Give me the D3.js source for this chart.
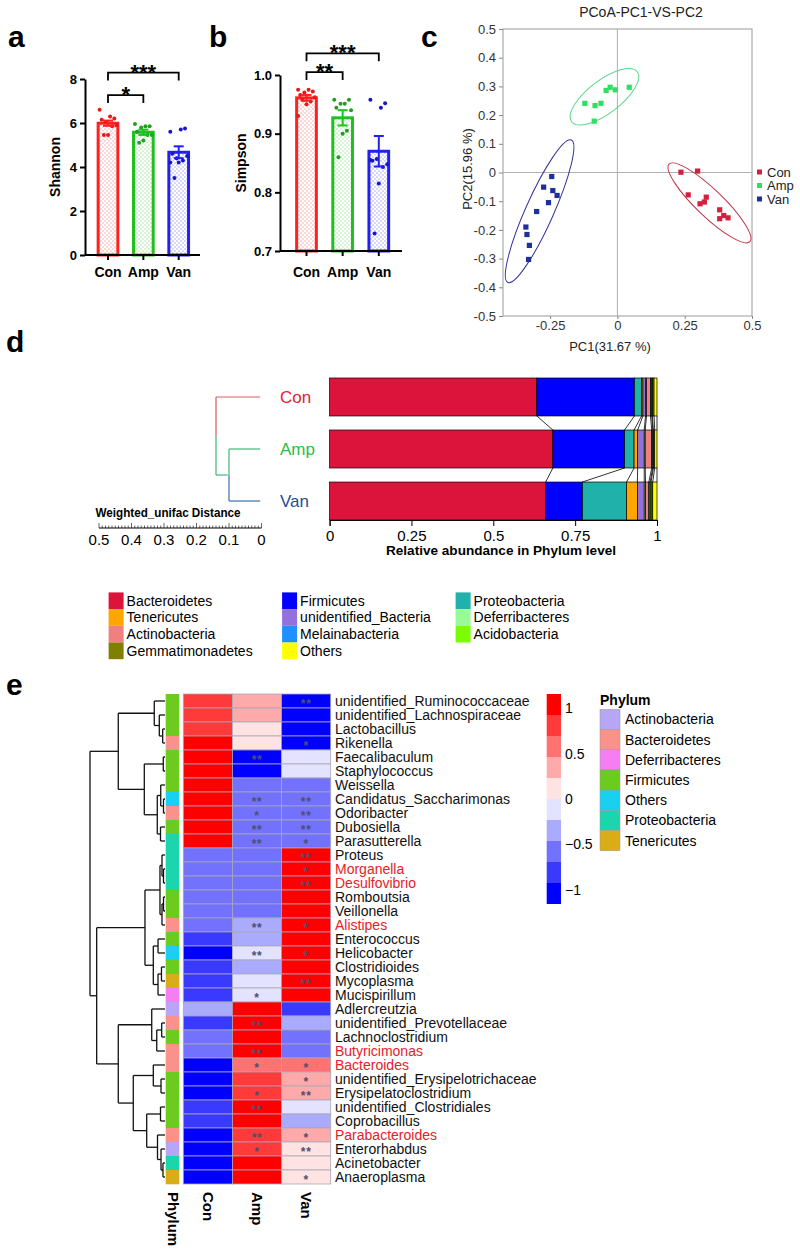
<!DOCTYPE html>
<html>
<head>
<meta charset="utf-8">
<script src="https://cdn.jsdelivr.net/npm/d3@7/dist/d3.min.js"></script>
<style>
  body { margin: 0; background: #fff; }
  svg { display: block; font-family: "Liberation Sans", Arial, sans-serif; }
</style>
</head>
<body>
<div id="fig"></div>
<script>
// ---------------- data: a / b alpha diversity ----------------
const groups = ["Con", "Amp", "Van"];
const groupColors = ["#ff2020", "#20c020", "#2020f0"];
const dotColors = ["#e81818", "#229f22", "#1616cc"];

const shannonMean = [5.99, 5.58, 4.67];
const shannonSem = [0.12, 0.12, 0.27];
const shannonCon = [6.6, 6.2, 6.3, 6.05, 6.15, 5.9, 5.85, 5.45, 5.45];
const shannonAmp = [5.95, 5.85, 5.85, 5.8, 5.6, 5.45, 5.45, 5.2, 5.1];
const shannonVan = [5.6, 5.75, 5.7, 4.4, 4.6, 4.5, 4.3, 4.2, 3.5, 4.2];
const shannonTicks = [0, 2, 4, 6, 8];
const shannonSig = [["Con", "Amp", "*", 7.27], ["Con", "Van", "***", 8.29]];

const simpsonMean = [0.961, 0.927, 0.870];
const simpsonSem = [0.005, 0.013, 0.026];
const simpsonCon = [0.975, 0.972, 0.975, 0.970, 0.966, 0.962, 0.955, 0.950, 0.958, 0.930];
const simpsonAmp = [0.958, 0.958, 0.951, 0.951, 0.944, 0.94, 0.905, 0.90, 0.86];
const simpsonVan = [0.958, 0.952, 0.944, 0.857, 0.854, 0.848, 0.843, 0.815, 0.730, 0.855];
const simpsonTicks = [0.7, 0.8, 0.9, 1.0];
const simpsonSig = [["Con", "Amp", "**", 1.005], ["Con", "Van", "***", 1.037]];

// ---------------- data: c PCoA ----------------
const pcoaColors = ["#d2203f", "#2ee062", "#1e2e9a"];
const ellipseColors = ["#c0364a", "#5ad88a", "#34349a"];
const pcoaCon = [[0.236, 0.001], [0.298, 0.005], [0.263, -0.078], [0.330, -0.086], [0.307, -0.109],
  [0.323, -0.103], [0.380, -0.130], [0.395, -0.150], [0.380, -0.161], [0.411, -0.158]];
const pcoaAmp = [[-0.121, 0.241], [-0.083, 0.233], [-0.061, 0.241], [-0.086, 0.179],
  [-0.042, 0.286], [-0.027, 0.297], [-0.008, 0.288], [0.044, 0.297]];
const pcoaVan = [[-0.244, -0.014], [-0.274, -0.051], [-0.240, -0.063], [-0.224, -0.080], [-0.256, -0.105],
  [-0.300, -0.136], [-0.340, -0.190], [-0.336, -0.216], [-0.327, -0.254], [-0.330, -0.303]];
// ellipse: centre x, centre y, major-axis end offset (dx, dy), minor/major ratio
const ellipses = [[0.342, -0.106, 0.150, -0.135, 0.24], [-0.048, 0.264, 0.122, 0.087, 0.40], [-0.289, -0.135, 0.118, 0.248, 0.18]];
const pcoaYTicks = [0.5, 0.4, 0.3, 0.2, 0.1, 0, -0.1, -0.2, -0.3, -0.4, -0.5];
const pcoaXTicks = [-0.25, 0, 0.25, 0.5];

// ---------------- data: d phylum abundance ----------------
const phyla = ["Bacteroidetes", "Firmicutes", "Proteobacteria", "Tenericutes", "unidentified_Bacteria",
  "Deferribacteres", "Actinobacteria", "Melainabacteria", "Acidobacteria", "Gemmatimonadetes", "Others"];
const phylaColors = ["#dc143c", "#0000ff", "#20b2aa", "#ffa500", "#9370db", "#98fb98", "#f08080",
  "#1e90ff", "#7cfc00", "#808000", "#ffff00"];
const abundCon = [0.633, 0.298, 0.022, 0.004, 0.008, 0.003, 0.012, 0.004, 0.002, 0.005, 0.009];
const abundAmp = [0.682, 0.219, 0.029, 0.011, 0.020, 0.003, 0.020, 0.003, 0.002, 0.004, 0.007];
const abundVan = [0.660, 0.112, 0.135, 0.033, 0.021, 0.004, 0.010, 0.004, 0.003, 0.005, 0.013];
const groupTree = [0.14, 0, [0.1, 1, 2]];
const treeColors = ["#e05a5a", "#3cb878", "#3a6fb0"];
const treeLabelColors = ["#e8203a", "#28c048", "#2a4a9a"];
const abundTicks = [0, 0.25, 0.5, 0.75, 1];
const distTicks = [0.5, 0.4, 0.3, 0.2, 0.1, 0];

// ---------------- data: e heatmap ----------------
const taxa = ["unidentified_Ruminococcaceae", "unidentified_Lachnospiraceae", "Lactobacillus", "Rikenella",
  "Faecalibaculum", "Staphylococcus", "Weissella", "Candidatus_Saccharimonas", "Odoribacter", "Dubosiella",
  "Parasutterella", "Proteus", "Morganella", "Desulfovibrio", "Romboutsia", "Veillonella", "Alistipes",
  "Enterococcus", "Helicobacter", "Clostridioides", "Mycoplasma", "Mucispirillum", "Adlercreutzia",
  "unidentified_Prevotellaceae", "Lachnoclostridium", "Butyricimonas", "Bacteroides",
  "unidentified_Erysipelotrichaceae", "Erysipelatoclostridium", "unidentified_Clostridiales", "Coprobacillus",
  "Parabacteroides", "Enterorhabdus", "Acinetobacter", "Anaeroplasma"];
const highlighted = ["Morganella", "Desulfovibrio", "Alistipes", "Butyricimonas", "Bacteroides", "Parabacteroides"];
const taxaPhylum = ["Firmicutes", "Firmicutes", "Firmicutes", "Bacteroidetes", "Firmicutes", "Firmicutes",
  "Firmicutes", "Others", "Bacteroidetes", "Firmicutes", "Proteobacteria", "Proteobacteria", "Proteobacteria",
  "Proteobacteria", "Firmicutes", "Firmicutes", "Bacteroidetes", "Firmicutes", "Others", "Firmicutes",
  "Tenericutes", "Deferribacteres", "Actinobacteria", "Bacteroidetes", "Firmicutes", "Bacteroidetes",
  "Bacteroidetes", "Firmicutes", "Firmicutes", "Firmicutes", "Firmicutes", "Bacteroidetes", "Actinobacteria",
  "Proteobacteria", "Tenericutes"];
const zCon = [0.80, 0.80, 0.85, 1.00, 1.10, 1.10, 1.15, 1.15, 1.15, 1.15, 1.15, -0.58, -0.58, -0.58, -0.58, -0.58,
  -0.62, -0.80, -1.00, -0.80, -0.85, -0.85, -0.35, -0.80, -0.57, -0.57, -1.15, -1.10, -1.10, -0.90, -0.80, -1.10,
  -1.05, -1.10, -1.10];
const zAmp = [0.35, 0.35, 0.15, 0.10, -1.00, -1.00, -0.58, -0.58, -0.58, -0.58, -0.58, -0.57, -0.57, -0.57, -0.57,
  -0.57, -0.42, -0.30, -0.10, -0.30, -0.15, -0.15, 1.15, 1.15, 1.15, 1.15, 0.58, 0.80, 0.80, 1.05, 1.10, 0.75,
  0.90, 1.00, 1.00];
const zVan = [-1.10, -1.10, -1.05, -1.10, -0.10, -0.10, -0.57, -0.57, -0.57, -0.57, -0.57, 1.15, 1.15, 1.15, 1.15,
  1.15, 1.10, 1.10, 1.10, 1.10, 1.00, 1.00, -0.80, -0.35, -0.58, -0.58, 0.57, 0.30, 0.30, -0.15, -0.30, 0.35,
  0.15, 0.10, 0.10];
const sigAmp = ["", "", "", "", "**", "", "", "**", "*", "**", "**", "", "", "", "", "", "**", "", "**", "", "",
  "*", "", "**", "", "**", "*", "", "*", "**", "", "**", "*", "", ""];
const sigVan = ["**", "", "", "*", "", "", "", "**", "**", "**", "*", "**", "*", "**", "", "", "*", "", "*", "",
  "**", "", "", "", "", "", "*", "*", "**", "", "", "*", "**", "", "*"];
const heatColors = ["#0000ff", "#3a3aff", "#7272ff", "#aaaaff", "#e3e3ff", "#ffe3e3", "#ffaaaa", "#ff7272", "#ff3a3a", "#ff0000"];
const colorbarTicks = [1, 0.5, 0, -0.5, -1];
const annotPhyla = ["Actinobacteria", "Bacteroidetes", "Deferribacteres", "Firmicutes", "Others", "Proteobacteria", "Tenericutes"];
const annotColors = ["#b7a6f5", "#f8928a", "#f47ef2", "#6ccb1f", "#1ad0f0", "#1bd6ac", "#d9ad18"];
// [height, left, right]; leaves are row indexes
const rowTree = [1.0,
  [0.623,
    [0.143, 0, [0.076, 1, [0.031, 2, 3]]],
    [0.276, [0.023, 4, 5], [0.103, [0.057, 6, [0.02, 7, 8]], [0.06, 9, 10]]]],
  [0.911,
    [0.267,
      [0.067, [0.04, 11, [0.02, 12, 13]], [0.04, [0.02, 14, 15], 16]],
      [0.156, [0.093, 17, 18], [0.093, [0.047, 19, 20], 21]]],
    [0.623,
      [0.177, 22, [0.11, [0.044, 23, 24], 25]],
      [0.423,
        [0.156, 26, [0.053, 27, 28]],
        [0.244, [0.06, 29, 30], [0.1, 31, [0.053, 32, [0.027, 33, 34]]]]]]]];

//------------------------------------------------------------------
const svg = d3.select("#fig").append("svg").attr("width", 800).attr("height", 1249);
svg.append("rect").attr("width", 800).attr("height", 1249).attr("fill", "#fff");
const defs = svg.append("defs");
groupColors.forEach((c, i) => {
  const p = defs.append("pattern").attr("id", "dots" + i).attr("width", 4).attr("height", 4)
    .attr("patternUnits", "userSpaceOnUse");
  p.append("rect").attr("width", 4).attr("height", 4).attr("fill", "#fff");
  p.append("circle").attr("cx", 1).attr("cy", 1).attr("r", 0.75).attr("fill", c).attr("opacity", 0.45);
  p.append("circle").attr("cx", 3).attr("cy", 3).attr("r", 0.75).attr("fill", c).attr("opacity", 0.45);
});

// panel letters
[["a", 8, 47], ["b", 209, 47], ["c", 421, 47], ["d", 6, 352], ["e", 6, 695]].forEach(l => {
  svg.append("text").attr("x", l[1]).attr("y", l[2]).text(l[0])
    .style("font-size", "30px").style("font-weight", "bold");
});

//------------------------------------------------------------------
// BAR + DOT PANELS (a, b)
let barPanel = function (o) {
  const g = svg.append("g");
  const x = d3.scalePoint().domain(groups).range(o.xr);
  const y = d3.scaleLinear().domain(o.yd).range(o.yr);
  const bw = 22.7;
  groups.forEach((k, i) => {
    const cx = x(k);
    g.append("rect").attr("x", cx - bw / 2 + 1.5).attr("y", y(o.mean[i]))
      .attr("width", bw - 3).attr("height", y(o.yd[0]) - y(o.mean[i]))
      .attr("fill", `url(#dots${i})`).attr("stroke", groupColors[i]).attr("stroke-width", 3);
    o.pts[i].forEach((v, j) => {
      const off = (((j * 7) % 9) - 4) * 2.1;
      g.append("circle").attr("cx", cx + off).attr("cy", y(v)).attr("r", 2).attr("fill", dotColors[i]);
    });
    const lo = y(o.mean[i] - o.sem[i]), hi = y(o.mean[i] + o.sem[i]);
    g.append("line").attr("x1", cx).attr("x2", cx).attr("y1", lo).attr("y2", hi)
      .attr("stroke", groupColors[i]).attr("stroke-width", 2);
    [lo, hi].forEach(yy => g.append("line").attr("x1", cx - 5).attr("x2", cx + 5).attr("y1", yy).attr("y2", yy)
      .attr("stroke", groupColors[i]).attr("stroke-width", 2));
  });
  // y axis
  const ay = g.append("g").attr("transform", `translate(${o.axisX},0)`)
    .call(d3.axisLeft(y).tickValues(o.ticks).tickSize(5).tickSizeOuter(0).tickPadding(3).tickFormat(o.fmt));
  ay.selectAll("path, line").attr("stroke", "#000").attr("stroke-width", 2);
  ay.selectAll("text").style("font-size", "13px").style("font-weight", "bold").attr("fill", "#000");
  // x axis
  const y0 = y(o.yd[0]);
  g.append("line").attr("x1", o.axisX).attr("x2", o.axisEnd).attr("y1", y0).attr("y2", y0)
    .attr("stroke", "#000").attr("stroke-width", 2);
  groups.forEach(k => {
    g.append("line").attr("x1", x(k)).attr("x2", x(k)).attr("y1", y0).attr("y2", y0 + 5)
      .attr("stroke", "#000").attr("stroke-width", 2);
    g.append("text").attr("x", x(k)).attr("y", 277).attr("text-anchor", "middle").text(k)
      .style("font-size", "14px").style("font-weight", "bold");
  });
  g.append("text").attr("transform", `translate(${o.labelX},${o.labelY}) rotate(-90)`)
    .attr("text-anchor", "middle").text(o.label).style("font-size", "14px").style("font-weight", "bold");
  // significance brackets
  o.sig.forEach(s => {
    const x1 = x(s[0]), x2 = x(s[1]), yy = y(s[3]);
    g.append("path").attr("d", `M${x1},${yy + 8}V${yy}H${x2}V${yy + 8}`)
      .attr("fill", "none").attr("stroke", "#000").attr("stroke-width", 1.8);
    g.append("text").attr("x", (x1 + x2) / 2).attr("y", yy + 7).attr("text-anchor", "middle").text(s[2])
      .style("font-size", "22px").style("font-weight", "bold");
  });
};

barPanel({ xr: [108, 178.7], yd: [0, 8], yr: [255, 79], axisX: 85, axisEnd: 200,
  mean: shannonMean, sem: shannonSem, pts: [shannonCon, shannonAmp, shannonVan],
  ticks: shannonTicks, fmt: d3.format("d"), label: "Shannon", labelX: 60, labelY: 167, sig: shannonSig });
barPanel({ xr: [306.5, 378.8], yd: [0.7, 1.0], yr: [251, 75], axisX: 280, axisEnd: 402,
  mean: simpsonMean, sem: simpsonSem, pts: [simpsonCon, simpsonAmp, simpsonVan],
  ticks: simpsonTicks, fmt: d3.format(".1f"), label: "Simpson", labelX: 246, labelY: 163, sig: simpsonSig });

//------------------------------------------------------------------
// PCoA (c)
const xC = d3.scaleLinear().domain([-0.425, 0.5]).range([503, 752]);
const yC = d3.scaleLinear().domain([-0.5, 0.5]).range([316, 29]);
const gc = svg.append("g");
gc.append("text").attr("x", 641).attr("y", 17).attr("text-anchor", "middle").text("PCoA-PC1-VS-PC2")
  .style("font-size", "14px").attr("fill", "#222");
gc.append("rect").attr("x", xC.range()[0]).attr("y", yC.range()[1])
  .attr("width", xC.range()[1] - xC.range()[0]).attr("height", yC.range()[0] - yC.range()[1])
  .attr("fill", "none").attr("stroke", "#9a9a9a").attr("stroke-width", 1);
gc.append("line").attr("x1", xC(0)).attr("x2", xC(0)).attr("y1", yC(0.5)).attr("y2", yC(-0.5))
  .attr("stroke", "#b0b0b0").attr("stroke-width", 1);
gc.append("line").attr("x1", xC.range()[0]).attr("x2", xC.range()[1]).attr("y1", yC(0)).attr("y2", yC(0))
  .attr("stroke", "#b0b0b0").attr("stroke-width", 1);
const fmtP = d => String(Math.round(d * 100) / 100);
const axC1 = gc.append("g").attr("transform", `translate(${xC.range()[0]},0)`)
  .call(d3.axisLeft(yC).tickValues(pcoaYTicks).tickSize(4).tickPadding(3).tickFormat(fmtP));
const axC2 = gc.append("g").attr("transform", `translate(0,${yC.range()[0]})`)
  .call(d3.axisBottom(xC).tickValues(pcoaXTicks).tickSize(3).tickPadding(2).tickFormat(fmtP));
[axC1, axC2].forEach(a => {
  a.select(".domain").remove();
  a.selectAll("line").attr("stroke", "#888");
  a.selectAll("text").style("font-size", "13px").attr("fill", "#333");
});
gc.append("text").attr("x", 610).attr("y", 351).attr("text-anchor", "middle").text("PC1(31.67 %)")
  .style("font-size", "13px").attr("fill", "#222");
gc.append("text").attr("transform", "translate(472,169) rotate(-90)").attr("text-anchor", "middle")
  .text("PC2(15.96 %)").style("font-size", "13px").attr("fill", "#222");
ellipses.forEach((e, i) => {
  const cx = xC(e[0]), cy = yC(e[1]);
  const ex = xC(e[0] + e[2]) - cx, ey = yC(e[1] + e[3]) - cy;
  const a = Math.hypot(ex, ey), ang = Math.atan2(ey, ex) * 180 / Math.PI;
  gc.append("ellipse").attr("cx", 0).attr("cy", 0).attr("rx", a).attr("ry", a * e[4])
    .attr("transform", `translate(${cx},${cy}) rotate(${ang})`)
    .attr("fill", "none").attr("stroke", ellipseColors[i]).attr("stroke-width", 1);
});
[pcoaCon, pcoaAmp, pcoaVan].forEach((pts, i) => {
  gc.selectAll(null).data(pts).join("rect")
    .attr("x", d => xC(d[0]) - 2.6).attr("y", d => yC(d[1]) - 2.6).attr("width", 5.2).attr("height", 5.2)
    .attr("fill", pcoaColors[i]);
  gc.append("rect").attr("x", 757).attr("y", 172 + i * 13.5 - 2.5).attr("width", 5).attr("height", 5)
    .attr("fill", pcoaColors[i]);
  gc.append("text").attr("x", 767).attr("y", 172 + i * 13.5 + 4.5).text(groups[i])
    .style("font-size", "13px").attr("fill", "#222");
});

//------------------------------------------------------------------
// STACKED PHYLUM BARS (d)
const gd = svg.append("g");
const narrow = '"Liberation Sans Narrow", "Liberation Sans", Arial, sans-serif';
const xD = d3.scaleLinear().domain([0, 1]).range([329.6, 657]);
const yD = d3.scaleBand().domain(groups).range([378, 520]).paddingInner(0.27);
const stacks = [abundCon, abundAmp, abundVan].map(a => {
  let s = 0;
  return a.map(v => { const r = [s, s + v]; s += v; return r; });
});
stacks.forEach((st, gi) => {
  st.forEach((seg, k) => {
    gd.append("rect").attr("x", xD(seg[0])).attr("y", yD(groups[gi]))
      .attr("width", xD(seg[1]) - xD(seg[0])).attr("height", yD.bandwidth())
      .attr("fill", phylaColors[k]).attr("stroke", "#000").attr("stroke-width", 0.7);
  });
});
for (let gi = 0; gi < 2; gi++) {
  stacks[gi].forEach((seg, k) => {
    gd.append("line").attr("x1", xD(seg[1])).attr("y1", yD(groups[gi]) + yD.bandwidth())
      .attr("x2", xD(stacks[gi + 1][k][1])).attr("y2", yD(groups[gi + 1]))
      .attr("stroke", "#000").attr("stroke-width", 0.8);
  });
}
const axD = gd.append("g").attr("transform", "translate(0,520)")
  .call(d3.axisBottom(xD).tickValues(abundTicks).tickSize(6).tickPadding(4).tickFormat(d => String(d)));
axD.selectAll("path, line").attr("stroke", "#000");
axD.selectAll("text").style("font-size", "15px").style("font-family", narrow).attr("fill", "#000");
gd.append("text").attr("x", 501).attr("y", 555).attr("text-anchor", "middle")
  .attr("textLength", 230).attr("lengthAdjust", "spacingAndGlyphs")
  .text("Relative abundance in Phylum level").style("font-size", "13px").style("font-weight", "bold");

// group dendrogram
const xTd = d3.scaleLinear().domain([0, 0.5]).range([261.5, 99]);
let drawGroupTree = function (n) {
  if (typeof n === "number") {
    return { y: yD(groups[n]) + yD.bandwidth() / 2, h: 0, c: treeColors[n] };
  }
  const a = drawGroupTree(n[1]), b = drawGroupTree(n[2]);
  const xn = xTd(n[0]), ym = (a.y + b.y) / 2;
  [a, b].forEach(ch => {
    gd.append("line").attr("x1", xn).attr("x2", xn).attr("y1", ym).attr("y2", ch.y)
      .attr("stroke", ch.c).attr("stroke-width", 1.2);
    gd.append("line").attr("x1", xn).attr("x2", xTd(ch.h) - 1.3).attr("y1", ch.y).attr("y2", ch.y)
      .attr("stroke", ch.c).attr("stroke-width", 1.2);
  });
  return { y: ym, h: n[0], c: a.c };
};
drawGroupTree(groupTree);
groups.forEach((k, i) => {
  gd.append("text").attr("x", 280).attr("y", yD(k) + yD.bandwidth() / 2 + 6).text(k)
    .style("font-size", "17px").style("font-family", narrow).attr("fill", treeLabelColors[i]);
});
gd.append("text").attr("x", 168).attr("y", 517).attr("text-anchor", "middle")
  .attr("textLength", 145).attr("lengthAdjust", "spacingAndGlyphs")
  .text("Weighted_unifac Distance").style("font-size", "13px").style("font-weight", "bold");
gd.append("line").attr("x1", xTd(0.5)).attr("x2", xTd(0)).attr("y1", 528).attr("y2", 528)
  .attr("stroke", "#000").attr("stroke-width", 1);
d3.range(0, 51).forEach(i => {
  const v = i / 100, big = i % 10 === 0;
  gd.append("line").attr("x1", xTd(v)).attr("x2", xTd(v)).attr("y1", big ? 523 : 525.5).attr("y2", 528)
    .attr("stroke", "#000").attr("stroke-width", 0.6);
});
distTicks.forEach(v => {
  gd.append("text").attr("x", xTd(v)).attr("y", 545).attr("text-anchor", "middle").text(String(v))
    .style("font-size", "15px").style("font-family", narrow);
});

// phylum legend
phyla.forEach((p, i) => {
  const col = i % 3, row = Math.floor(i / 3);
  const lx = 108.6 + col * 173.5, ly = 600.7 + row * 16.7;
  gd.append("rect").attr("x", lx).attr("y", ly - 8.3).attr("width", 15).attr("height", 16.7).attr("fill", phylaColors[i]);
  gd.append("text").attr("x", lx + 18).attr("y", ly + 5).text(p).style("font-size", "14px");
});

//------------------------------------------------------------------
// HEATMAP (e)
const ge = svg.append("g");
const rowY = d3.scaleBand().domain(d3.range(taxa.length)).range([694, 1184]);
const colX = d3.scaleBand().domain(groups).range([183.3, 330.7]);
const heat = d3.scaleQuantize().domain([-1.155, 1.155]).range(heatColors);
const annot = d3.scaleOrdinal().domain(annotPhyla).range(annotColors);
const zs = [zCon, zAmp, zVan];
const sigs = [taxa.map(() => ""), sigAmp, sigVan];

taxa.forEach((t, r) => {
  ge.append("rect").attr("x", 165.7).attr("y", rowY(r)).attr("width", 13.6).attr("height", rowY.bandwidth() + 0.3)
    .attr("fill", annot(taxaPhylum[r]));
  groups.forEach((gname, c) => {
    ge.append("rect").attr("x", colX(gname)).attr("y", rowY(r)).attr("width", colX.bandwidth())
      .attr("height", rowY.bandwidth()).attr("fill", heat(zs[c][r]))
      .attr("stroke", "#a9a9b4").attr("stroke-width", 0.8);
    if (sigs[c][r]) {
      ge.append("text").attr("x", colX(gname) + colX.bandwidth() / 2).attr("y", rowY(r) + rowY.bandwidth() / 2 + 7)
        .attr("text-anchor", "middle").text(sigs[c][r]).style("font-size", "12px").style("font-weight", "bold")
        .style("letter-spacing", "0.6px").attr("fill", "#4c5070");
    }
  });
  ge.append("text").attr("x", 335).attr("y", rowY(r) + rowY.bandwidth() / 2 + 5).text(t)
    .style("font-size", "14px").attr("fill", highlighted.includes(t) ? "#e8202a" : "#111");
});
// column labels
[["Phylum", 172.5]].concat(groups.map(gname => [gname, colX(gname) + colX.bandwidth() / 2])).forEach(l => {
  ge.append("text").attr("transform", `translate(${l[1] - 5},1192) rotate(90)`).text(l[0])
    .style("font-size", "15px").style("font-weight", "bold");
});
// row dendrogram
const xT = d3.scaleLinear().domain([0, 1]).range([165, 90]);
let drawRowTree = function (n) {
  if (typeof n === "number") return { y: rowY(n) + rowY.bandwidth() / 2, h: 0 };
  const a = drawRowTree(n[1]), b = drawRowTree(n[2]);
  const xn = xT(n[0]);
  ge.append("line").attr("x1", xn).attr("x2", xn).attr("y1", a.y).attr("y2", b.y)
    .attr("stroke", "#111").attr("stroke-width", 1.3);
  [a, b].forEach(ch => ge.append("line").attr("x1", xn).attr("x2", xT(ch.h)).attr("y1", ch.y).attr("y2", ch.y)
    .attr("stroke", "#111").attr("stroke-width", 1.3));
  return { y: (a.y + b.y) / 2, h: n[0] };
};
drawRowTree(rowTree);

// colour bar
const yBar = d3.scaleLinear().domain([-1.155, 1.155]).range([904, 694]);
heatColors.forEach((c, i) => {
  const ext = heat.invertExtent(c);
  ge.append("rect").attr("x", 546.7).attr("y", yBar(ext[1])).attr("width", 14.3)
    .attr("height", yBar(ext[0]) - yBar(ext[1])).attr("fill", c);
});
colorbarTicks.forEach(v => {
  ge.append("text").attr("x", 565).attr("y", yBar(v) + 5)
    .text(v < 0 ? "\u2212" + Math.abs(v) : String(v)).style("font-size", "14px");
});
// annotation legend
ge.append("text").attr("x", 600).attr("y", 705).text("Phylum").style("font-size", "14px").style("font-weight", "bold");
annotPhyla.forEach((p, i) => {
  const y0 = 709.3 + i * 20.2;
  ge.append("rect").attr("x", 600).attr("y", y0).attr("width", 20).attr("height", 20.2).attr("fill", annot(p))
    .attr("stroke", "#999").attr("stroke-width", 0.5);
  ge.append("text").attr("x", 625).attr("y", y0 + 15).text(p).style("font-size", "14px");
});
</script>
</body>
</html>
